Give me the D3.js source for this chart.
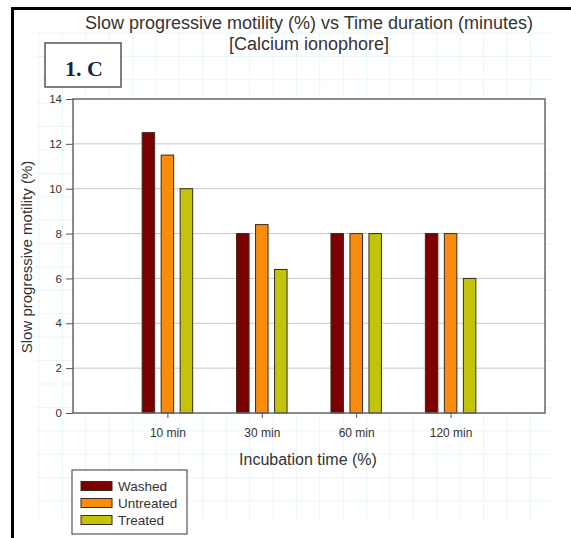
<!DOCTYPE html>
<html><head><meta charset="utf-8">
<script src="https://cdn.jsdelivr.net/npm/d3@7"></script>
<style>body{margin:0;background:#fff}svg{display:block;font-family:Arial,"Liberation Sans",sans-serif}</style>
</head><body>
<script>
const categories = ["10 min", "30 min", "60 min", "120 min"];
const seriesNames = ["Washed", "Untreated", "Treated"];
const washed = [12.5, 8, 8, 8];
const untreated = [11.5, 8.4, 8, 8];
const treated = [10, 6.4, 8, 6];
const yTicks = [0, 2, 4, 6, 8, 10, 12, 14];
const colors = ["#7b0000", "#fb8b0c", "#c3c30a"];
const seriesValues = [washed, untreated, treated];

const W = 571, H = 538;
const svg = d3.select("body").append("svg").attr("width", W).attr("height", H);

// faint graph-paper grid
const grid = svg.append("g").attr("stroke", "#e8f7f9").attr("stroke-width", 1);
for (let x = 39; x <= 552; x += 23.4) grid.append("line").attr("x1", x).attr("x2", x).attr("y1", 33).attr("y2", 520);
for (let y = 33; y <= 522; y += 23.4) grid.append("line").attr("x1", 35).attr("x2", 552).attr("y1", y).attr("y2", y);

// outer black frame (top & left)
svg.append("line").attr("x1", 11).attr("x2", W).attr("y1", 8.5).attr("y2", 8.5).attr("stroke", "#000").attr("stroke-width", 3);
svg.append("line").attr("x1", 12.5).attr("x2", 12.5).attr("y1", 7).attr("y2", H).attr("stroke", "#000").attr("stroke-width", 3);

const L = 73, R = 545, T = 99, B = 413;
const x = d3.scalePoint().domain(categories).range([L, R]).padding(1);
const y = d3.scaleLinear().domain([0, 14]).range([B, T]);

// title
svg.append("text").attr("x", 309).attr("y", 28.5).attr("text-anchor", "middle").attr("font-size", 18).attr("fill", "#333")
  .text("Slow progressive motility (%) vs Time duration (minutes)");
svg.append("text").attr("x", 309).attr("y", 49.5).attr("text-anchor", "middle").attr("font-size", 18).attr("fill", "#333")
  .text("[Calcium ionophore]");

// label box
svg.append("rect").attr("x", 45).attr("y", 43).attr("width", 76).attr("height", 44).attr("fill", "#fff").attr("stroke", "#555").attr("stroke-width", 1.5);
svg.append("text").attr("x", 65).attr("y", 76).attr("font-family", "'Liberation Serif','Times New Roman',serif")
  .attr("font-weight", "bold").attr("font-size", 22).attr("fill", "#1a1f4d").text("1. C");

// plot background
svg.append("rect").attr("x", L).attr("y", T).attr("width", R - L).attr("height", B - T).attr("fill", "#fff");

// horizontal gridlines
svg.append("g").selectAll("line").data(yTicks.filter(d => d > 0 && d < 14)).join("line")
  .attr("x1", L).attr("x2", R).attr("y1", d => y(d)).attr("y2", d => y(d))
  .attr("stroke", "#c8c8c8").attr("stroke-width", 1);

// bars
const bw = 12.5, off = 19;
seriesValues.forEach((vals, si) => {
  svg.append("g").selectAll("rect").data(vals).join("rect")
    .attr("x", (d, i) => x(categories[i]) + (si - 1) * off - bw / 2)
    .attr("y", d => y(d))
    .attr("width", bw)
    .attr("height", d => B - y(d))
    .attr("fill", colors[si])
    .attr("stroke", "#3a2a20").attr("stroke-width", 1);
});

// frame
svg.append("rect").attr("x", L).attr("y", T).attr("width", R - L).attr("height", B - T)
  .attr("fill", "none").attr("stroke", "#666").attr("stroke-width", 1.5);

// axes
const yAxis = svg.append("g").attr("transform", `translate(${L},0)`)
  .call(d3.axisLeft(y).tickValues(yTicks).tickSize(7).tickPadding(4));
yAxis.select(".domain").remove();
yAxis.selectAll("line").attr("stroke", "#555");
yAxis.selectAll("text").attr("font-size", 11.5).attr("fill", "#333").attr("font-family", "Arial,'Liberation Sans',sans-serif");

const xAxis = svg.append("g").attr("transform", `translate(0,${B})`)
  .call(d3.axisBottom(x).tickSize(5).tickPadding(10));
xAxis.select(".domain").remove();
xAxis.selectAll("line").attr("stroke", "#555");
xAxis.selectAll("text").attr("font-size", 12).attr("fill", "#333").attr("font-family", "Arial,'Liberation Sans',sans-serif");

// axis titles
svg.append("text").attr("transform", "translate(32,257) rotate(-90)").attr("text-anchor", "middle")
  .attr("font-size", 15).attr("fill", "#333").text("Slow progressive motility (%)");
svg.append("text").attr("x", 308).attr("y", 465).attr("text-anchor", "middle")
  .attr("font-size", 16).attr("fill", "#333").text("Incubation time (%)");

// legend
svg.append("rect").attr("x", 72).attr("y", 470).attr("width", 115).attr("height", 64)
  .attr("fill", "#fff").attr("stroke", "#555").attr("stroke-width", 1.2);
const lg = svg.append("g").selectAll("g").data(seriesNames).join("g")
  .attr("transform", (d, i) => `translate(81,${486 + i * 17})`);
lg.append("rect").attr("x", 0).attr("y", -4.5).attr("width", 31).attr("height", 9)
  .attr("fill", (d, i) => colors[i]).attr("stroke", "#3a2a20").attr("stroke-width", 1);
lg.append("text").attr("x", 37).attr("y", 5).attr("font-size", 13.5).attr("fill", "#333").text(d => d);
</script>
</body></html>
